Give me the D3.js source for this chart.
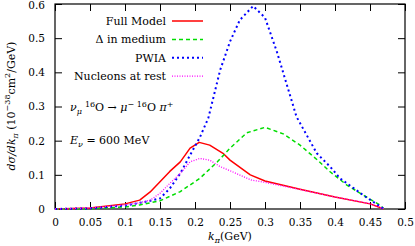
<!DOCTYPE html>
<html>
<head>
<meta charset="utf-8">
<script src="https://cdn.jsdelivr.net/npm/d3@7"></script>
<style>
  body { margin: 0; background: #fff; }
  svg text { font-family: "DejaVu Serif", serif; }
</style>
</head>
<body>
<script>
const WIDTH = 415;
const HEIGHT = 246;
const M = {left: 55, right: 10, top: 4, bottom: 37};

// k_pi (GeV) and the curves
const fullK   = [0.0, 0.05, 0.1, 0.121, 0.136, 0.15, 0.164, 0.179, 0.193, 0.206, 0.221, 0.24, 0.25, 0.279, 0.3, 0.35, 0.4, 0.45, 0.47];
const fullV   = [0.0, 0.003, 0.015, 0.026, 0.05, 0.08, 0.11, 0.138, 0.178, 0.195, 0.187, 0.163, 0.143, 0.1, 0.082, 0.058, 0.035, 0.015, 0.0];

const deltaK  = [0.0, 0.05, 0.1, 0.121, 0.15, 0.179, 0.207, 0.232, 0.25, 0.274, 0.3, 0.326, 0.35, 0.374, 0.393, 0.417, 0.44, 0.464, 0.47];
const deltaV  = [0.0, 0.001, 0.006, 0.012, 0.024, 0.051, 0.09, 0.138, 0.178, 0.223, 0.239, 0.22, 0.187, 0.145, 0.109, 0.07, 0.041, 0.012, 0.0];

const pwiaK   = [0.0, 0.05, 0.1, 0.121, 0.136, 0.15, 0.164, 0.179, 0.193, 0.207, 0.219, 0.236, 0.25, 0.264, 0.283, 0.3, 0.317, 0.345, 0.374, 0.393, 0.407, 0.44, 0.47];
const pwiaV   = [0.0, 0.002, 0.01, 0.018, 0.024, 0.031, 0.06, 0.104, 0.158, 0.21, 0.266, 0.407, 0.49, 0.553, 0.594, 0.56, 0.46, 0.27, 0.163, 0.124, 0.09, 0.041, 0.0];

const restK   = [0.0, 0.05, 0.1, 0.121, 0.136, 0.15, 0.164, 0.179, 0.193, 0.207, 0.221, 0.236, 0.25, 0.28, 0.3, 0.35, 0.4, 0.45, 0.47];
const restV   = [0.0, 0.003, 0.012, 0.018, 0.026, 0.046, 0.075, 0.104, 0.138, 0.148, 0.143, 0.124, 0.112, 0.085, 0.078, 0.057, 0.035, 0.016, 0.0];

const xTicks = [0, 0.05, 0.1, 0.15, 0.2, 0.25, 0.3, 0.35, 0.4, 0.45, 0.5];
const yTicks = [0, 0.1, 0.2, 0.3, 0.4, 0.5, 0.6];

const series = [
  {name: "Full Model",        k: fullK,  v: fullV,  color: "#ff0000", dash: null,  width: 1.5},
  {name: "\u0394 in medium",  k: deltaK, v: deltaV, color: "#00dd00", dash: "4,3", width: 1.5},
  {name: "PWIA",              k: pwiaK,  v: pwiaV,  color: "#0000ff", dash: "2,3", width: 2},
  {name: "Nucleons at rest",  k: restK,  v: restV,  color: "#ff00ff", dash: "1,1.5", width: 1.3}
];

const svg = d3.select("body").append("svg")
  .attr("width", WIDTH).attr("height", HEIGHT);

const x = d3.scaleLinear().domain([0, 0.5]).range([M.left, WIDTH - M.right]);
const y = d3.scaleLinear().domain([0, 0.6]).range([HEIGHT - M.bottom, M.top]);

// ticks, pointing inwards, mirrored on top and right
const tl = 7;
const fmt = d => d === 0 ? "0" : String(d);
svg.append("g").attr("transform", `translate(0,${y(0)})`)
  .call(d3.axisBottom(x).tickValues(xTicks).tickSizeInner(-tl).tickSizeOuter(0).tickPadding(10).tickFormat(fmt));
svg.append("g").attr("transform", `translate(0,${y(0.6)})`)
  .call(d3.axisTop(x).tickValues(xTicks).tickSizeInner(-tl).tickSizeOuter(0).tickFormat(""));
svg.append("g").attr("transform", `translate(${x(0)},0)`)
  .call(d3.axisLeft(y).tickValues(yTicks).tickSizeInner(-tl).tickSizeOuter(0).tickPadding(10).tickFormat(fmt));
svg.append("g").attr("transform", `translate(${x(0.5)},0)`)
  .call(d3.axisRight(y).tickValues(yTicks).tickSizeInner(-tl).tickSizeOuter(0).tickFormat(""));

svg.selectAll(".domain").remove();
svg.selectAll("g").attr("font-family", null);
svg.selectAll(".tick line").attr("stroke", "#000").attr("stroke-width", 1);
svg.selectAll(".tick text").attr("font-size", 10.5).attr("fill", "#000");
// keep the top label inside the picture
svg.selectAll(".tick text").filter(d => d === 0.6).attr("dy", "0.42em");

svg.append("rect")
  .attr("x", x(0)).attr("y", y(0.6))
  .attr("width", x(0.5) - x(0)).attr("height", y(0) - y(0.6))
  .attr("fill", "none").attr("stroke", "#000").attr("stroke-width", 1.2);

// curves
const line = d3.line().x(d => x(d[0])).y(d => y(d[1]));
series.forEach(s => {
  svg.append("path")
    .datum(d3.zip(s.k, s.v))
    .attr("d", line)
    .attr("fill", "none")
    .attr("stroke", s.color)
    .attr("stroke-width", s.width)
    .attr("stroke-linejoin", "round")
    .attr("stroke-dasharray", s.dash);
});

// legend
const leg = svg.append("g");
series.forEach((s, i) => {
  const ly = 21 + i * 18.4;
  leg.append("text")
    .attr("x", 166).attr("y", ly + 4)
    .attr("text-anchor", "end").attr("font-size", 11)
    .text(s.name);
  leg.append("line")
    .attr("x1", 172).attr("x2", 203).attr("y1", ly).attr("y2", ly)
    .attr("stroke", s.color).attr("stroke-width", s.width)
    .attr("stroke-dasharray", s.dash);
});

// reaction annotation
const ann = svg.append("text").attr("x", 70).attr("y", 111).attr("font-size", 11);
ann.append("tspan").attr("font-style", "italic").text("\u03bd");
ann.append("tspan").attr("font-style", "italic").attr("font-size", 8).attr("dy", 2.5).text("\u03bc");
ann.append("tspan").attr("font-size", 8).attr("dy", -7).attr("dx", 3).text("16");
ann.append("tspan").attr("dy", 4.5).text("O \u2192 ");
ann.append("tspan").attr("font-style", "italic").text("\u03bc");
ann.append("tspan").attr("font-size", 8).attr("dy", -4.5).text("\u2212 16");
ann.append("tspan").attr("dy", 4.5).text("O ");
ann.append("tspan").attr("font-style", "italic").text("\u03c0");
ann.append("tspan").attr("font-size", 8).attr("dy", -4.5).text("+");

const en = svg.append("text").attr("x", 70).attr("y", 144).attr("font-size", 11);
en.append("tspan").attr("font-style", "italic").text("E");
en.append("tspan").attr("font-style", "italic").attr("font-size", 8).attr("dy", 2.5).text("\u03bd");
en.append("tspan").attr("dy", -2.5).text(" = 600 MeV");

// axis labels
const xl = svg.append("text").attr("x", 230).attr("y", 240)
  .attr("text-anchor", "middle").attr("font-size", 11);
xl.append("tspan").attr("font-style", "italic").text("k");
xl.append("tspan").attr("font-style", "italic").attr("font-size", 8).attr("dy", 2.5).text("\u03c0");
xl.append("tspan").attr("dy", -2.5).text("(GeV)");

const yl = svg.append("text")
  .attr("transform", `translate(15,${106}) rotate(-90)`)
  .attr("text-anchor", "middle").attr("font-size", 11);
yl.append("tspan").attr("font-style", "italic").text("d\u03c3/dk");
yl.append("tspan").attr("font-style", "italic").attr("font-size", 8).attr("dy", 2.5).text("\u03c0");
yl.append("tspan").attr("dy", -2.5).text(" (10");
yl.append("tspan").attr("font-size", 8).attr("dy", -5).text("\u221238");
yl.append("tspan").attr("dy", 5).text("cm");
yl.append("tspan").attr("font-size", 8).attr("dy", -5).text("2");
yl.append("tspan").attr("dy", 5).text("/GeV)");
</script>
</body>
</html>
